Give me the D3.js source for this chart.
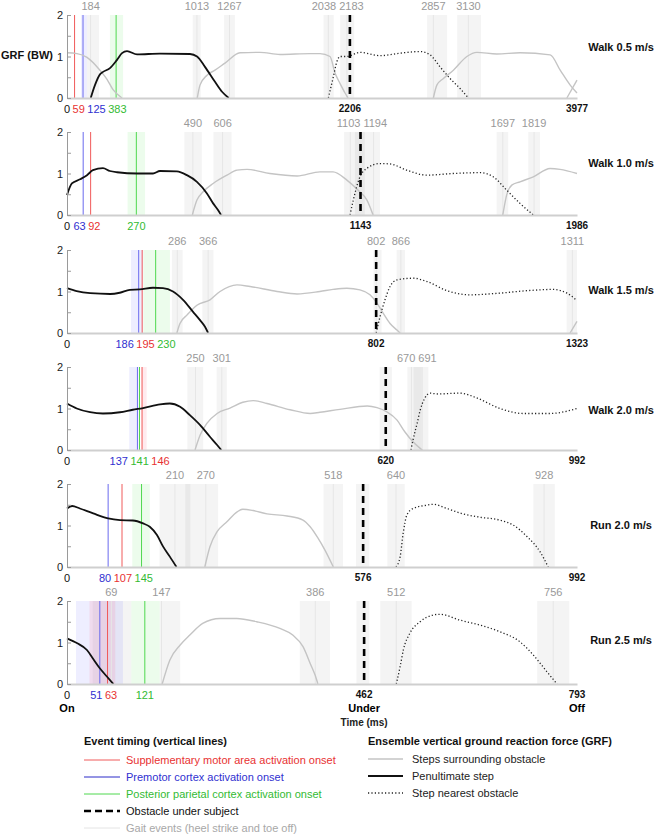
<!DOCTYPE html>
<html><head><meta charset="utf-8">
<script src="https://cdn.jsdelivr.net/npm/d3@7"></script>
<style>body{margin:0;background:#fff;} svg{display:block;font-family:"Liberation Sans",Arial,sans-serif;}</style>
</head><body><svg id="c" width="657" height="838"></svg>
<script>
// ---------------- DATA ----------------
const panelNames = ["Walk 0.5 m/s", "Walk 1.0 m/s", "Walk 1.5 m/s", "Walk 2.0 m/s", "Run 2.0 m/s", "Run 2.5 m/s"];
const durations = [3977, 1986, 1323, 992, 992, 793];
const obstacleTimes = [2206, 1143, 802, 620, 576, 462];
const obstacleBand = [null, null, null, [608, 632], [562, 588], [450, 470]];

// Event onsets (ms)
const smaOnset = [59, 92, 195, 146, 107, 63];     // supplementary motor area (red)
const pmcOnset = [125, 63, 186, 137, 80, 51];     // premotor cortex (blue)
const ppcOnset = [383, 270, 230, 141, 145, 121];  // posterior parietal cortex (green)
const smaBand = [null, null, null, [145, 155], null, [35, 75]];
const pmcBand = [[109, 156], null, [166, 197], [121, 139], null, [14, 87]];
const ppcBand = [[335, 437], [236, 304], [198, 267], null, [127, 161], [100, 144]];

// Gait events: [value, band low, band high] (ms)
const gaitEvents = [
  [[184, 156, 250], [1013, 980, 1043], [1267, 1225, 1310], [2038, 2000, 2080], [2183, 2130, 2240], [2857, 2808, 2964], [3130, 3042, 3229]],
  [[490, 457, 525], [606, 570, 641], [1103, 1079, 1160], [1194, 1121, 1219], [1697, 1673, 1718], [1819, 1796, 1842]],
  [[286, 272, 300], [366, 351, 380], [802, 795, 816], [866, 855, 877], [1311, 1296, 1323]],
  [[250, 234, 265], [301, 291, 311], [670, 662, 690], [691, 674, 703]],
  [[210, 180, 240], [270, 230, 294], [518, 499, 537], [640, 623, 657], [928, 907, 949]],
  [[69, 40, 100], [147, 144, 176], [386, 362, 409], [512, 487, 536], [756, 731, 781]]
];

// GRF curves: [time ms, GRF BW]
const surroundingSteps = [
  [
    [[0,1.09],[78,1.07],[156,0.98],[257,0.67],[312,0.45],[359,0.2],[429,0]],
    [[1016,0],[1037,0.31],[1092,0.55],[1154,0.67],[1232,0.84],[1349,1.09],[1505,1.1],[1661,1.05],[1895,1.07],[1973,1.07],[2051,1.0],[2090,0.6],[2129,0.35],[2168,0.12],[2192,0]],
    [[2857,0],[2884,0.31],[2935,0.47],[3013,0.67],[3118,1.0],[3196,1.10],[3352,1.06],[3534,1.09],[3768,1.04],[3846,0.67],[3924,0.31],[3977,0.12]],
    [[3898,0],[3977,0.43]]
  ],
  [
    [[488,0],[506,0.36],[530,0.56],[569,0.76],[623,0.96],[662,1.08],[701,1.10],[790,1.0],[896,0.94],[985,1.04],[1036,1.04],[1090,0.84],[1133,0.6],[1168,0.36],[1192,0]],
    [[1697,0],[1712,0.48],[1732,0.72],[1764,0.8],[1816,0.92],[1881,1.12],[1920,1.1],[1986,1.0]]
  ],
  [
    [[285,0],[293,0.23],[311,0.43],[337,0.67],[371,0.8],[397,1.0],[441,1.16],[475,1.12],[545,1.0],[597,0.94],[656,1.0],[690,1.05],[726,1.08],[760,1.04],[786,0.92],[804,0.72],[820,0.48],[838,0.23],[856,0.07],[864,0]],
    [[1305,0],[1323,0.28]]
  ],
  [
    [[249,0],[259,0.36],[272,0.64],[292,0.88],[317,1.01],[342,1.15],[362,1.19],[389,1.12],[434,0.97],[473,0.88],[492,0.91],[531,0.98],[584,1.06],[603,1.02],[622,0.92],[642,0.72],[657,0.44],[673,0.2],[687,0.04],[691,0]]
  ],
  [
    [[268,0],[278,0.49],[292,0.85],[311,1.09],[331,1.33],[342,1.39],[362,1.36],[389,1.28],[428,1.23],[459,1.13],[473,0.97],[488,0.7],[502,0.4],[518,0]]
  ],
  [
    [[148,0],[160,0.58],[176,0.94],[191,1.18],[211,1.46],[238,1.58],[264,1.58],[295,1.5],[331,1.34],[351,1.18],[367,0.9],[378,0.5],[389,0.06],[390,0]]
  ]
];
const penultimateStep = [
  [[185,0],[218,0.31],[257,0.57],[281,0.63],[335,0.72],[390,0.92],[429,1.08],[468,1.13],[546,1.05],[725,1.07],[959,1.06],[1014,1.0],[1076,0.75],[1154,0.39],[1209,0.15],[1261,0]],
  [[0,0.48],[19,0.76],[51,0.86],[78,0.96],[101,1.08],[140,1.13],[167,1.06],[195,1.03],[273,1.0],[335,1.0],[362,1.06],[428,1.05],[467,0.96],[506,0.8],[545,0.52],[569,0.28],[588,0.12],[600,0]],
  [[0,1.08],[25,1.01],[60,0.96],[112,0.94],[137,0.97],[163,1.04],[189,1.05],[223,1.09],[249,1.08],[275,1.0],[301,0.8],[327,0.51],[345,0.31],[358,0.15],[366,0]],
  [[0,1.12],[19,1.0],[45,0.91],[70,0.88],[103,0.91],[128,0.97],[148,1.01],[181,1.1],[200,1.12],[220,1.04],[239,0.84],[259,0.6],[278,0.32],[292,0.12],[300,0]],
  [[0,1.41],[10,1.47],[25,1.41],[51,1.29],[80,1.17],[103,1.13],[128,1.12],[148,1.05],[161,0.97],[175,0.77],[187,0.49],[200,0.25],[213,0]],
  [[0,1.10],[16,0.98],[31,0.82],[40,0.62],[51,0.38],[62,0.18],[72,0]]
];
const nearestStep = [
  [[2038,0],[2077,0.51],[2104,0.87],[2129,1.0],[2182,1.0],[2285,1.10],[2441,1.02],[2598,1.08],[2753,1.12],[2831,1.04],[2909,0.75],[2987,0.47],[3065,0.23],[3130,0]],
  [[1102,0],[1115,0.36],[1128,0.68],[1141,0.92],[1167,1.12],[1219,1.24],[1258,1.23],[1323,1.08],[1401,0.96],[1504,1.0],[1608,1.02],[1660,0.92],[1712,0.6],[1764,0.28],[1816,0]],
  [[802,0],[812,0.39],[825,0.8],[838,1.12],[856,1.28],[898,1.32],[934,1.24],[986,1.02],[1045,0.92],[1123,0.96],[1193,1.02],[1261,1.05],[1297,0.96],[1323,0.78]],
  [[669,0],[673,0.24],[681,0.64],[687,0.96],[696,1.25],[706,1.37],[720,1.35],[764,1.37],[798,1.25],[842,1.0],[887,0.88],[940,0.88],[992,1.0]],
  [[640,0],[648,0.25],[654,0.82],[661,1.25],[673,1.41],[700,1.49],[712,1.51],[739,1.41],[770,1.28],[803,1.2],[842,1.13],[868,1.01],[895,0.73],[920,0.37],[934,0.05],[936,0]],
  [[512,0],[518,0.42],[523,0.82],[533,1.22],[549,1.5],[569,1.66],[580,1.68],[611,1.54],[642,1.42],[673,1.26],[704,1.02],[725,0.7],[746,0.3],[762,0]]
];
const yTicks = [0, 0.5, 1, 1.5, 2];
const eventLegend = ["Supplementary motor area activation onset", "Premotor cortex activation onset", "Posterior parietal cortex activation onset", "Obstacle under subject", "Gait events (heel strike and toe off)"];
const grfLegend = ["Steps surrounding obstacle", "Penultimate step", "Step nearest obstacle"];

// ---------------- LAYOUT / STYLE ----------------
const svg = d3.select("#c");
const X0 = 67, X1 = 577, PH = 83;
const tops = [15, 132, 250, 367, 484, 601];
const nameDy = [32, 31, 40, 43, 41, 39];
const COL = {
  red: "#e83232", blue: "#3030d0", green: "#33bb33",
  redLine: "#f05a5a", blueLine: "#6a6aee", greenLine: "#4fd84f",
  redBand: "rgba(255,90,120,0.13)", blueBand: "rgba(90,90,255,0.10)", greenBand: "rgba(70,230,70,0.10)",
  grayBand: "rgba(0,0,0,0.045)", gaitLine: "#e6e6e6", grf: "#c4c4c4"
};
const DOT = "1.2,2.2";

function relax(items, gap) {
  items.sort((a, b) => a.x - b.x);
  for (let it = 0; it < 80; it++) {
    for (let k = 1; k < items.length; k++) {
      const a = items[k - 1], b = items[k];
      const d = (b.x - a.x) - ((a.w + b.w) / 2 + gap);
      if (d < 0) {
        if (a.fixed) b.x -= d;
        else if (b.fixed) a.x += d;
        else { a.x += d / 2; b.x -= d / 2; }
      }
    }
  }
}

const lineGen = (x, y) => d3.line().x(d => x(d[0])).y(d => y(d[1])).curve(d3.curveMonotoneX);

panelNames.forEach((name, i) => {
  const top = tops[i], y0 = top + PH, dur = durations[i];
  const x = d3.scaleLinear().domain([0, dur]).range([X0, X1]);
  const y = d3.scaleLinear().domain([0, 2]).range([y0, top]);
  const g = svg.append("g");
  const bx = v => x(Math.max(0, Math.min(dur, v)));
  const band = (lo, hi, fill) => g.append("rect").attr("x", bx(lo)).attr("width", bx(hi) - bx(lo))
    .attr("y", top).attr("height", PH).attr("fill", fill);

  gaitEvents[i].forEach(e => band(e[1], e[2], COL.grayBand));
  if (obstacleBand[i]) band(obstacleBand[i][0], obstacleBand[i][1], COL.grayBand);
  if (pmcBand[i]) band(pmcBand[i][0], pmcBand[i][1], COL.blueBand);
  if (smaBand[i]) band(smaBand[i][0], smaBand[i][1], COL.redBand);
  if (ppcBand[i]) band(ppcBand[i][0], ppcBand[i][1], COL.greenBand);
  gaitEvents[i].forEach(e => g.append("line").attr("x1", x(e[0])).attr("x2", x(e[0]))
    .attr("y1", top).attr("y2", y0).attr("stroke", COL.gaitLine).attr("stroke-width", 1));
  const ev = [
    {v: pmcOnset[i], line: COL.blueLine, txt: COL.blue},
    {v: smaOnset[i], line: COL.redLine, txt: COL.red},
    {v: ppcOnset[i], line: COL.greenLine, txt: COL.green}
  ];
  ev.forEach(e => g.append("line").attr("x1", x(e.v)).attr("x2", x(e.v)).attr("y1", top).attr("y2", y0)
    .attr("stroke", e.line).attr("stroke-width", 1));

  const lg = lineGen(x, y);
  surroundingSteps[i].forEach(s => g.append("path").attr("d", lg(s)).attr("fill", "none")
    .attr("stroke", COL.grf).attr("stroke-width", 1.4));
  g.append("path").attr("d", lg(penultimateStep[i])).attr("fill", "none").attr("stroke", "#111").attr("stroke-width", 1.8);
  g.append("path").attr("d", lg(nearestStep[i])).attr("fill", "none").attr("stroke", "#222")
    .attr("stroke-width", 1.3).attr("stroke-dasharray", DOT);

  g.append("line").attr("x1", x(obstacleTimes[i])).attr("x2", x(obstacleTimes[i]))
    .attr("y1", top).attr("y2", y0).attr("stroke", "#000").attr("stroke-width", 2.6).attr("stroke-dasharray", "7,5");

  const xa = g.append("g").attr("transform", `translate(0,${y0})`)
    .call(d3.axisBottom(x).tickValues([]).tickSizeOuter(0));
  xa.select(".domain").attr("stroke", "#cfcfcf").attr("stroke-width", 2);
  const ya = g.append("g").attr("transform", `translate(${X0},0)`)
    .call(d3.axisLeft(y).tickValues(yTicks).tickSize(-4).tickSizeOuter(0).tickPadding(4)
      .tickFormat(v => Number.isInteger(v) ? String(v) : ""));
  ya.select(".domain").attr("stroke", "#9a9a9a");
  ya.selectAll(".tick line").attr("stroke", "#9a9a9a");
  ya.selectAll("text").attr("font-size", 11).attr("fill", "#222").attr("font-family", "Liberation Sans, Arial, sans-serif");

  const topItems = gaitEvents[i].map(e => {
    const t = g.append("text").attr("font-size", 11).attr("fill", "#999").attr("text-anchor", "middle")
      .attr("y", top - 5.5).text(e[0]);
    return {t, x: x(e[0]), w: t.node().getComputedTextLength(), fixed: false};
  });
  relax(topItems, 3);
  topItems.forEach(o => o.t.attr("x", o.x));

  const by = y0 + 14.5;
  const botItems = [];
  const zt = g.append("text").attr("font-size", 11).attr("fill", "#111").attr("text-anchor", "middle").attr("y", by).text("0");
  botItems.push({t: zt, x: x(0), w: zt.node().getComputedTextLength(), fixed: true});
  ev.forEach(e => {
    const t = g.append("text").attr("font-size", 11).attr("fill", e.txt).attr("text-anchor", "middle").attr("y", by).text(e.v);
    botItems.push({t, x: x(e.v), w: t.node().getComputedTextLength(), fixed: false});
  });
  relax(botItems, 2.5);
  botItems.forEach(o => o.t.attr("x", o.x));
  g.append("text").attr("font-size", 10).attr("font-weight", "bold").attr("fill", "#111").attr("text-anchor", "middle")
    .attr("x", x(obstacleTimes[i])).attr("y", by - 0.5).text(obstacleTimes[i]);
  g.append("text").attr("font-size", 10).attr("font-weight", "bold").attr("fill", "#111").attr("text-anchor", "middle")
    .attr("x", x(dur)).attr("y", by - 0.5).text(dur);

  svg.append("text").attr("x", 621).attr("y", top + nameDy[i] + 4).attr("text-anchor", "middle")
    .attr("font-size", 11).attr("font-weight", "bold").attr("fill", "#111").text(name);

  if (i === panelNames.length - 1) {
    const ob = x(obstacleTimes[i]);
    svg.append("text").attr("x", X0).attr("y", y0 + 28).attr("text-anchor", "middle").attr("font-size", 11).attr("font-weight", "bold").text("On");
    svg.append("text").attr("x", ob).attr("y", y0 + 28).attr("text-anchor", "middle").attr("font-size", 11).attr("font-weight", "bold").text("Under");
    svg.append("text").attr("x", ob).attr("y", y0 + 41.5).attr("text-anchor", "middle").attr("font-size", 10).attr("font-weight", "bold").attr("fill", "#222").text("Time (ms)");
    svg.append("text").attr("x", X1).attr("y", y0 + 28).attr("text-anchor", "middle").attr("font-size", 11).attr("font-weight", "bold").text("Off");
  }
});

svg.append("text").attr("x", 1).attr("y", 59).attr("font-size", 11).attr("font-weight", "bold").attr("fill", "#111").text("GRF (BW)");

// ---------------- LEGENDS ----------------
const L = svg.append("g");
L.append("text").attr("x", 84).attr("y", 745).attr("font-size", 11).attr("font-weight", "bold").attr("fill", "#111").text("Event timing (vertical lines)");
const evStyles = [
  {stroke: COL.redLine, w: 1, dash: null, txt: COL.red},
  {stroke: "#2b2bc8", w: 1, dash: null, txt: COL.blue},
  {stroke: COL.greenLine, w: 1, dash: null, txt: COL.green},
  {stroke: "#000", w: 2.6, dash: "7,4", txt: "#111"},
  {stroke: "#e4e4e4", w: 1, dash: null, txt: "#a8a8a8"}
];
const evY = [760, 777, 794, 811, 828];
eventLegend.forEach((lab, k) => {
  const s = evStyles[k];
  L.append("line").attr("x1", 84).attr("x2", 120).attr("y1", evY[k]).attr("y2", evY[k])
    .attr("stroke", s.stroke).attr("stroke-width", s.w).attr("stroke-dasharray", s.dash);
  L.append("text").attr("x", 126).attr("y", evY[k] + 4).attr("font-size", 11).attr("fill", s.txt).text(lab);
});
L.append("text").attr("x", 368).attr("y", 745).attr("font-size", 11).attr("font-weight", "bold").attr("fill", "#111").text("Ensemble vertical ground reaction force (GRF)");
const grfStyles = [
  {stroke: COL.grf, w: 1.4, dash: null},
  {stroke: "#111", w: 2, dash: null},
  {stroke: "#222", w: 1.3, dash: DOT}
];
const grfY = [759, 776, 793];
grfLegend.forEach((lab, k) => {
  const s = grfStyles[k];
  L.append("line").attr("x1", 368).attr("x2", 403).attr("y1", grfY[k]).attr("y2", grfY[k])
    .attr("stroke", s.stroke).attr("stroke-width", s.w).attr("stroke-dasharray", s.dash);
  L.append("text").attr("x", 412).attr("y", grfY[k] + 4).attr("font-size", 11).attr("fill", "#222").text(lab);
});
</script>
</body></html>
